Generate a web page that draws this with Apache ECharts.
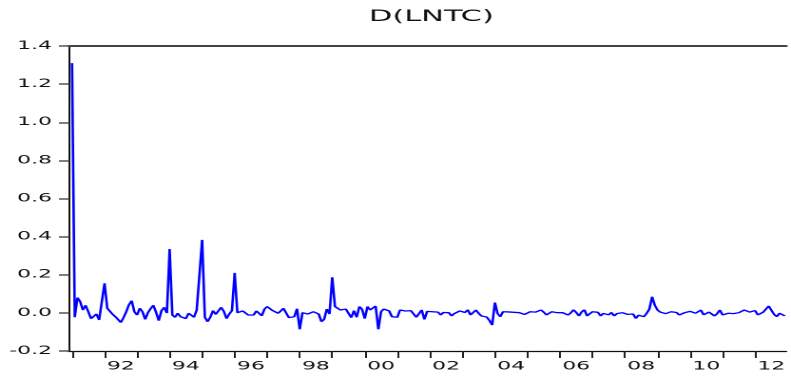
<!DOCTYPE html>
<html>
<head>
<meta charset="utf-8">
<script src="https://cdn.jsdelivr.net/npm/echarts@6/dist/echarts.min.js"></script>
<style>
html,body{margin:0;padding:0;background:#fff;overflow:hidden;width:791px;height:378px;}
#main{width:416px;height:378px;transform:scaleX(1.9014);transform-origin:0 0;}
</style>
</head>
<body>
<div id="main"></div>
<script>
// Series: D(LNTC), monthly, 1991M01 .. 2012M12
const titleText = 'D(LNTC)';
const startYear = 1991;
const values = [
 1.31,-0.023,0.08,0.059,0.015,0.04,0.006,-0.03,-0.03,-0.006,-0.037,-0.037,
 0.155,0.024,0.022,-0.008,-0.02,-0.03,-0.05,-0.025,0.006,0.043,0.064,0.006,
 -0.011,0.024,0.006,-0.034,0.001,0.022,0.04,0.003,-0.041,0.012,0.029,-0.001,
 0.335,-0.011,-0.023,-0.002,-0.02,-0.016,-0.03,-0.002,-0.011,-0.023,0.015,0.02,
 0.383,-0.023,-0.046,-0.023,0.012,-0.008,-0.006,0.029,0.008,-0.03,-0.006,0.012,
 0.21,0.001,0.001,0.01,0.012,-0.011,-0.016,-0.011,0.01,0.01,-0.015,0.02,
 0.033,0.041,0.012,0.003,-0.002,0.01,0.024,0.027,-0.025,-0.016,-0.02,0.022,
 -0.086,0.001,0.003,-0.006,-0.015,0.006,0.005,-0.006,-0.046,-0.034,0.02,-0.006,
 0.187,0.033,0.027,0.015,0.006,0.02,-0.002,-0.025,0.012,-0.023,0.033,0.019,
 -0.03,0.033,0.015,0.015,0.036,-0.086,0.006,0.02,0.015,0.01,-0.02,-0.025,
 -0.023,0.015,0.012,0.010,0.018,0.012,0.002,-0.023,-0.004,0.015,-0.034,0.008,
 0.012,0.006,0.016,0.004,-0.011,0.002,0.008,0.001,-0.016,-0.004,0.006,0.010,
 0.004,0.002,0.016,-0.011,-0.020,0.015,-0.002,-0.016,-0.009,-0.022,-0.040,-0.064,
 0.054,-0.004,-0.020,0.006,0.002,0.005,0.015,0.003,0.004,0.001,-0.004,-0.008,
 -0.011,0.006,-0.002,0.004,0.005,0.015,0.004,-0.011,-0.009,0.006,0.003,0.001,
 -0.002,0.001,-0.004,-0.011,0.000,0.016,0.002,-0.016,0.005,0.016,-0.016,-0.012,
 0.006,-0.004,0.003,-0.016,-0.003,0.001,-0.010,0.002,-0.016,-0.004,0.003,0.001,
 -0.002,-0.008,-0.011,-0.006,-0.029,-0.012,-0.011,-0.020,-0.002,0.020,0.085,0.040,
 0.015,0.004,0.006,-0.004,-0.011,0.006,-0.003,0.002,-0.011,-0.003,0.001,0.004,
 0.008,0.015,-0.002,0.004,0.015,-0.010,-0.020,0.004,0.006,-0.016,-0.004,0.015,
 -0.011,-0.006,-0.002,0.001,-0.004,0.003,0.001,0.004,0.015,0.006,0.004,0.008,
 0.012,-0.011,-0.006,0.004,0.006,0.036,0.040,-0.008,-0.020,-0.002,0.002,-0.016
];
const tickYears = [1991,1992,1993,1994,1995,1996,1997,1998,1999,2000,2001,2002,2003,2004,2005,2006,2007,2008,2009,2010,2011,2012];
const labelYears = [1992,1994,1996,1998,2000,2002,2004,2006,2008,2010,2012];
const labelTexts = ['92','94','96','98','00','02','04','06','08','10','12'];
const yMin = -0.2, yMax = 1.4, yStep = 0.2;
const xMin = 1990.908, xMax = 2012.95;

const seriesData = values.map((v, i) => [startYear + i / 12, v]);
const labelPos = labelYears.map(y => y + 0.5);

const chart = echarts.init(document.getElementById('main'), null, {renderer: 'canvas', devicePixelRatio: 2});
const font = 'DejaVu Sans';
chart.setOption({
  animation: false,
  backgroundColor: '#ffffff',
  title: {
    text: titleText,
    left: 194,
    top: 9,
    padding: 0,
    textStyle: {fontFamily: font, fontSize: 16, fontWeight: 'normal', color: '#111'}
  },
  grid: {left: 36.3, right: 0, top: 46, bottom: 27, containLabel: false},
  xAxis: [{
    type: 'value',
    position: 'bottom',
    min: xMin, max: xMax,
    splitLine: {show: false},
    axisLine: {show: true, onZero: false, lineStyle: {color: '#111', width: 1.3}},
    axisTick: {show: true, inside: false, length: 7, customValues: tickYears, lineStyle: {color: '#222', width: 1}},
    axisLabel: {
      show: true, margin: 9.5, customValues: labelPos,
      fontFamily: font, fontSize: 11.5, color: '#111',
      formatter: function (v) { const k = labelPos.findIndex(p => Math.abs(p - v) < 1e-6); return k >= 0 ? labelTexts[k] : ''; }
    }
  }, {
    type: 'value',
    position: 'top',
    min: xMin, max: xMax,
    splitLine: {show: false},
    axisLine: {show: true, onZero: false, lineStyle: {color: '#444', width: 2}},
    axisTick: {show: false},
    axisLabel: {show: false}
  }],
  yAxis: {
    type: 'value',
    min: yMin, max: yMax, interval: yStep,
    splitLine: {show: false},
    axisLine: {show: true, onZero: false, lineStyle: {color: '#111', width: 1}},
    axisTick: {show: true, inside: false, length: 5.3, lineStyle: {color: '#555', width: 1.5}},
    axisLabel: {
      margin: 9, fontFamily: font, fontSize: 11.5, color: '#111',
      formatter: function (v) { return v.toFixed(1); }
    }
  },
  series: [{
    type: 'line',
    xAxisIndex: 0,
    data: seriesData,
    showSymbol: false,
    symbol: 'none',
    lineStyle: {color: '#0000ff', width: 1.3},
    emphasis: {disabled: true}
  }]
});
</script>
</body>
</html>
